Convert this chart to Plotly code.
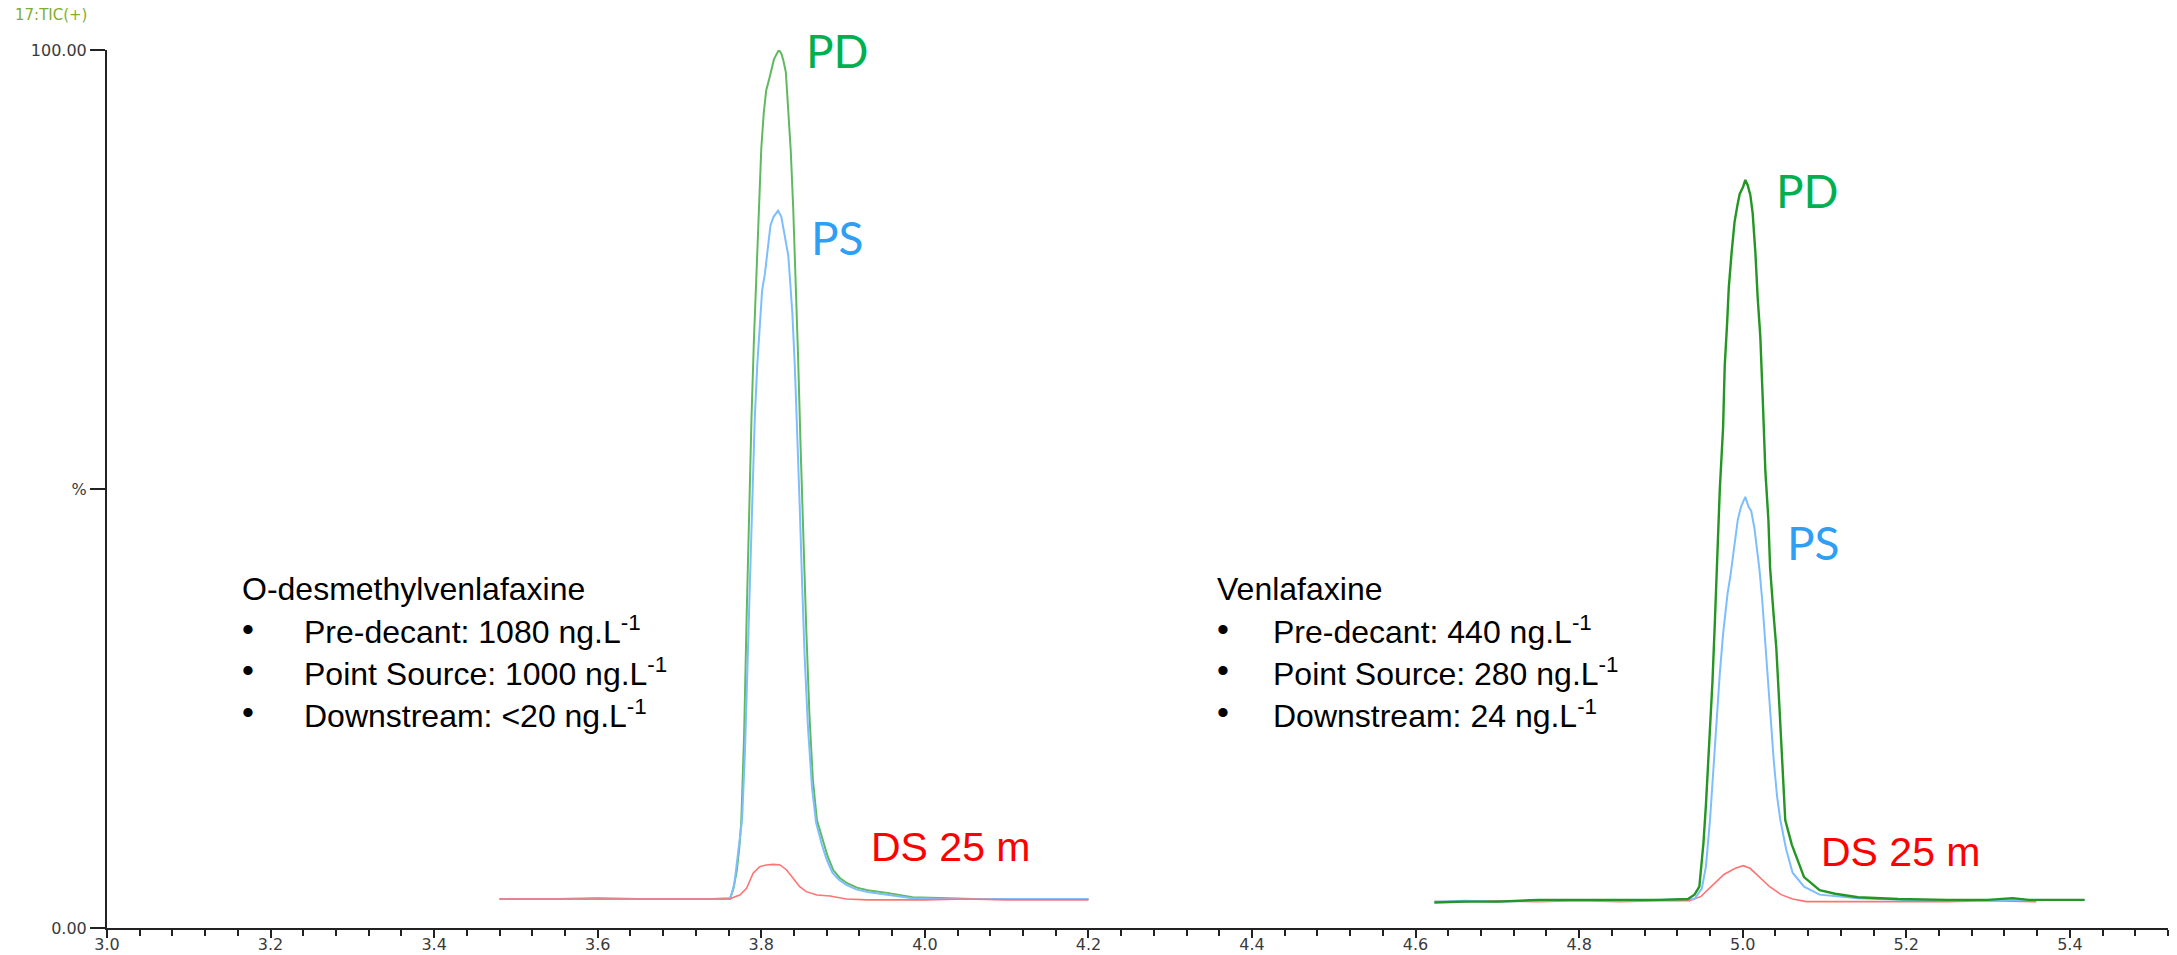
import plotly.graph_objects as go

# ---------------- data ----------------
# Peak 1: O-desmethylvenlafaxine  (retention time in min, relative intensity in %)
odv_pd_t = [3.480, 3.550, 3.600, 3.650, 3.700, 3.740, 3.762, 3.766, 3.770, 3.773,
            3.7755, 3.779, 3.782, 3.785, 3.788, 3.791, 3.794, 3.797, 3.800, 3.803,
            3.806, 3.810, 3.8125, 3.8154, 3.8185, 3.8215, 3.8245, 3.827, 3.830, 3.833,
            3.836, 3.839, 3.842, 3.845, 3.848, 3.851, 3.855, 3.859, 3.863, 3.868,
            3.875, 3.881, 3.888, 3.896, 3.905, 3.917, 3.930, 3.954, 3.985, 4.020,
            4.060, 4.100, 4.150, 4.200]
odv_pd_v = [3.3, 3.3, 3.4, 3.3, 3.3, 3.3, 3.4, 4.5, 6.5, 9.0,
            12.0, 22, 35, 47, 58, 67, 74.6, 82.6, 88.8, 92.8,
            95.4, 96.8, 97.7, 98.9, 99.5, 100.0, 99.6, 98.8, 97.5, 93.5,
            88.6, 82.1, 74.6, 65, 55, 45, 34, 24, 17, 12.3,
            10.0, 8.2, 6.6, 5.7, 5.1, 4.6, 4.3, 4.0, 3.5, 3.4,
            3.3, 3.3, 3.3, 3.3]

odv_ps_t = [3.480, 3.550, 3.600, 3.650, 3.700, 3.740, 3.762, 3.767, 3.771, 3.7765,
            3.780, 3.783, 3.786, 3.789, 3.792, 3.795, 3.798, 3.801, 3.8044, 3.8083,
            3.8112, 3.815, 3.8206, 3.8245, 3.8276, 3.830, 3.833, 3.835, 3.838, 3.841,
            3.844, 3.847, 3.850, 3.853, 3.857, 3.862, 3.867, 3.874, 3.880, 3.887,
            3.895, 3.904, 3.916, 3.930, 3.954, 3.985, 4.020, 4.060, 4.100, 4.150,
            4.200]
odv_ps_v = [3.3, 3.3, 3.3, 3.3, 3.3, 3.3, 3.3, 5.0, 8.0, 12.3,
            20, 30, 40, 50, 58, 64, 69, 72.6, 74.5, 77.6,
            80, 81, 81.7, 81, 79.5, 78, 76.6, 74, 70, 64,
            57, 48, 39, 31, 23, 16, 12, 9.5, 7.8, 6.3,
            5.5, 4.9, 4.4, 4.1, 3.8, 3.4, 3.3, 3.3, 3.3, 3.3,
            3.3]

odv_ds_t = [3.480, 3.550, 3.600, 3.650, 3.700, 3.740, 3.7616, 3.7677, 3.7738, 3.782,
            3.790, 3.798, 3.806, 3.815, 3.823, 3.831, 3.839, 3.847, 3.855, 3.868,
            3.884, 3.904, 3.930, 3.960, 4.000, 4.050, 4.100, 4.150, 4.200]
odv_ds_v = [3.3, 3.3, 3.3, 3.3, 3.3, 3.3, 3.3, 3.57, 3.76, 4.52,
            6.23, 6.99, 7.18, 7.25, 7.18, 6.61, 5.66, 4.71, 4.14, 3.76,
            3.64, 3.3, 3.2, 3.2, 3.2, 3.3, 3.2, 3.2, 3.2]

# Peak 2: Venlafaxine
ven_pd_t = [4.623, 4.660, 4.700, 4.750, 4.800, 4.850, 4.900, 4.933, 4.941, 4.947,
            4.952, 4.955, 4.959, 4.963, 4.966, 4.969, 4.972, 4.976, 4.978, 4.981,
            4.983, 4.9865, 4.990, 4.9935, 4.9963, 5.0004, 5.0032, 5.0061, 5.0093, 5.0122,
            5.0155, 5.0183, 5.0215, 5.025, 5.0277, 5.0314, 5.0335, 5.0375, 5.041, 5.045,
            5.049, 5.052, 5.060, 5.067, 5.075, 5.094, 5.113, 5.141, 5.190, 5.250,
            5.300, 5.330, 5.350, 5.418]
ven_pd_v = [2.9, 3.0, 3.0, 3.2, 3.2, 3.2, 3.2, 3.3, 3.8, 4.7,
            9.7, 14, 21, 28, 35, 42, 50, 57, 64, 69,
            73, 77, 80.4, 82.3, 83.6, 84.4, 85.2, 84.6, 83.5, 81.4,
            76.9, 71.8, 67.4, 59, 52, 46.5, 41, 36, 32, 25,
            18, 12.3, 9.5, 7.7, 5.8, 4.3, 3.9, 3.5, 3.3, 3.2,
            3.2, 3.4, 3.2, 3.2]

ven_ps_t = [4.623, 4.660, 4.700, 4.750, 4.800, 4.850, 4.900, 4.941, 4.950, 4.955,
            4.960, 4.964, 4.968, 4.972, 4.976, 4.979, 4.9816, 4.9848, 4.988, 4.9915,
            4.994, 4.998, 5.0032, 5.007, 5.0104, 5.0144, 5.0172, 5.0205, 5.0237, 5.0266,
            5.030, 5.034, 5.038, 5.042, 5.046, 5.053, 5.061, 5.075, 5.094, 5.140,
            5.200, 5.300, 5.418]
ven_ps_v = [3.0, 3.1, 3.0, 3.1, 3.2, 3.1, 3.2, 3.3, 4.5, 7.0,
            12.3, 18, 24, 29, 33.5, 36, 38.2, 40, 42.5, 45,
            46.5, 48, 49.1, 48, 47.5, 45.5, 43.5, 40.8, 37.5, 33.6,
            29, 24, 19, 15, 12.3, 9.0, 6.3, 4.7, 3.8, 3.4,
            3.2, 3.2, 3.2]

ven_ds_t = [4.623, 4.660, 4.700, 4.750, 4.800, 4.850, 4.900, 4.935, 4.949, 4.963,
            4.977, 4.991, 5.0005, 5.009, 5.0216, 5.033, 5.047, 5.061, 5.078, 5.120,
            5.180, 5.250, 5.300, 5.359]
ven_ds_v = [3.0, 3.0, 3.1, 3.0, 3.1, 3.0, 3.1, 3.1, 3.6, 4.9,
            6.1, 6.8, 7.1, 6.8, 5.7, 4.7, 3.8, 3.3, 3.0, 3.0,
            3.0, 3.0, 3.1, 3.0]

# ---------------- texts / ticks ----------------
x_tick_vals = [3.0, 3.2, 3.4, 3.6, 3.8, 4.0, 4.2, 4.4, 4.6, 4.8, 5.0, 5.2, 5.4]
x_tick_text = ["3.0", "3.2", "3.4", "3.6", "3.8", "4.0", "4.2", "4.4", "4.6", "4.8", "5.0", "5.2", "5.4"]
y_tick_vals = [0, 50, 100]
y_tick_text = ["0.00", "%", "100.00"]

trace_title = "17:TIC(+)"
compounds = ["O-desmethylvenlafaxine", "Venlafaxine"]
stage_names = ["Pre-decant", "Point Source", "Downstream"]
odv_conc = ["1080", "1000", "&lt;20"]
ven_conc = ["440", "280", "24"]
unit_html = "ng.L<sup>-1</sup>"
sample_labels = ["PD", "PS", "DS 25 m"]

# ---------------- styles ----------------
PD1_COLOR = "rgb(95,185,95)"
PD2_COLOR = "rgb(35,150,35)"
PS_COLOR = "rgb(125,190,255)"
DS_COLOR = "rgb(255,115,115)"
PD_TXT = "#00b050"
PS_TXT = "#2f9ef5"
DS_TXT = "#ff0000"
NARROW = "Liberation Sans Narrow, Arial Narrow, Liberation Sans, Arial, sans-serif"
LABEL_FONT = "Lato, Open Sans, sans-serif"
AXIS_FONT = "DejaVu Sans, Verdana, sans-serif"

fig = go.Figure()


def add_line(t, v, color, width):
    fig.add_trace(go.Scatter(x=t, y=v, mode="lines", line=dict(color=color, width=width),
                             showlegend=False, hoverinfo="skip"))


# peak 1 (green below, blue, red on top)
add_line(odv_pd_t, odv_pd_v, PD1_COLOR, 2)
add_line(odv_ps_t, odv_ps_v, PS_COLOR, 2)
add_line(odv_ds_t, odv_ds_v, DS_COLOR, 1.6)
# peak 2 (red, blue, green on top)
add_line(ven_ds_t, ven_ds_v, DS_COLOR, 1.6)
add_line(ven_ps_t, ven_ps_v, PS_COLOR, 2)
add_line(ven_pd_t, ven_pd_v, PD2_COLOR, 2.4)

annotations = []


def label(x, y, text, color, family, size, xanchor="center", xref="x", yref="y"):
    annotations.append(dict(x=x, y=y, xref=xref, yref=yref, text=text, showarrow=False,
                            xanchor=xanchor, yanchor="middle",
                            font=dict(family=family, size=size, color=color)))


# sample labels next to peaks
label(3.893, 100.0, sample_labels[0], PD_TXT, LABEL_FONT, 46)
label(3.8936, 78.6, sample_labels[1], PS_TXT, LABEL_FONT, 46)
label(4.0318, 9.26, sample_labels[2], DS_TXT, NARROW, 41)
label(5.079, 84.05, sample_labels[0], PD_TXT, LABEL_FONT, 46)
label(5.0868, 43.9, sample_labels[1], PS_TXT, LABEL_FONT, 46)
label(5.194, 8.6, sample_labels[2], DS_TXT, NARROW, 41)

# concentration text blocks
line_y = [38.6, 33.9, 29.15, 24.4]
blocks = [(3.1626, 3.238, compounds[0], odv_conc), (4.3545, 4.4238, compounds[1], ven_conc)]
for x_title, x_text, name, concs in blocks:
    label(x_title, line_y[0], name, "#000000", NARROW, 32, xanchor="left")
    for i in range(3):
        label(x_title, line_y[i + 1] + 0.2, "\u2022", "#000000", "Liberation Sans, Arial, sans-serif", 34,
              xanchor="left")
        label(x_text, line_y[i + 1], f"{stage_names[i]}: {concs[i]} {unit_html}", "#000000", NARROW, 32,
              xanchor="left")

# trace title at top-left
annotations.append(dict(x=-0.0456, y=1.0399, xref="paper", yref="paper", text=trace_title,
                        showarrow=False, xanchor="left", yanchor="middle",
                        font=dict(family=AXIS_FONT, size=15, color="#7fae2e")))

fig.update_layout(
    width=2177, height=955, autosize=False,
    margin=dict(l=107, r=9, t=50, b=27),
    paper_bgcolor="white", plot_bgcolor="white",
    annotations=annotations,
    xaxis=dict(range=[3.0, 5.52], showgrid=False, zeroline=False, showline=True, automargin=False,
               linecolor="#222", linewidth=2, ticks="outside", ticklen=8, tickwidth=2,
               tickcolor="#222", tickmode="array", tickvals=x_tick_vals, ticktext=x_tick_text,
               ticklabelstandoff=-7,
               tickfont=dict(family=AXIS_FONT, size=16, color="#3a3a3a"),
               minor=dict(ticks="outside", ticklen=6, tickwidth=2, tickcolor="#222",
                          tickmode="linear", tick0=3.0, dtick=0.04, showgrid=False)),
    yaxis=dict(range=[0, 100], showgrid=False, zeroline=False, showline=True, automargin=False,
               linecolor="#222", linewidth=2, ticks="outside", ticklen=15, tickwidth=2,
               tickcolor="#222", tickmode="array", tickvals=y_tick_vals, ticktext=y_tick_text,
               tickfont=dict(family=AXIS_FONT, size=16, color="#3a3a3a")),
)

fig.write_html("out.html", config={"displayModeBar": False},
               post_script="document.body.style.margin='0';document.body.style.overflow='hidden';")
